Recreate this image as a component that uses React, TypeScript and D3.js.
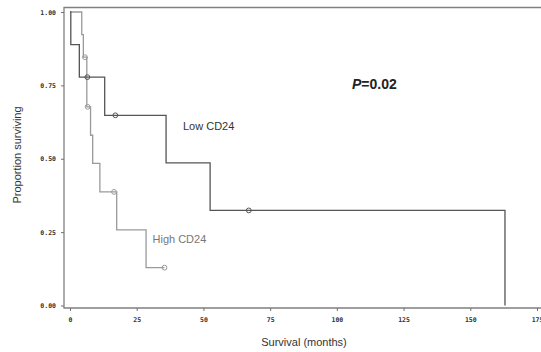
import React, { useRef, useEffect } from 'react'
import * as d3 from 'd3'

// Kaplan-Meier steps (months, proportion surviving)
const lowTimes = [0, 0.3, 3.5, 13, 36, 52.5, 163]
const lowSurv = [1, 0.889, 0.778, 0.648, 0.486, 0.324, 0]
const lowCensorTimes = [6.5, 17, 67]
const lowCensorSurv = [0.778, 0.648, 0.324]

const highTimes = [0, 4.4, 5.0, 6.3, 7.7, 8.5, 11.2, 17.5, 28.5, 35.4]
const highSurv = [1, 0.923, 0.846, 0.677, 0.58, 0.484, 0.387, 0.258, 0.129, 0.129]
const highCensorTimes = [5.6, 6.6, 16.5, 35.4]
const highCensorSurv = [0.846, 0.677, 0.387, 0.129]

const xTicks = [0, 25, 50, 75, 100, 125, 150, 175]
const yTicks = [0, 0.25, 0.5, 0.75, 1]

const W = 541
const H = 352
const frame = { left: 64, top: 7.5, bottom: 308, right: 541 }

const App = () => {
	const plotRef = useRef<SVGGElement | null>(null)

	const x = d3.scaleLinear().domain([0, 175]).range([70, 537])
	const y = d3.scaleLinear().domain([0, 1]).range([305.5, 12])

	useEffect(() => {
		const g = d3.select(plotRef.current)
		g.selectAll('*').remove()

		// frame
		g.append('path')
			.attr('d', `M${frame.right},${frame.top}H${frame.left}V${frame.bottom}H${frame.right}`)
			.attr('fill', 'none')
			.attr('stroke', '#808080')
			.attr('stroke-width', 1.3)

		// axes
		const xAxis = g
			.append('g')
			.attr('transform', `translate(0,${frame.bottom})`)
			.call(
				d3
					.axisBottom(x)
					.tickValues(xTicks)
					.tickSize(3)
					.tickPadding(6)
					.tickFormat((d) => String(d))
			)
		xAxis.select('.domain').remove()

		const yAxis = g
			.append('g')
			.attr('transform', `translate(${frame.left},0)`)
			.call(
				d3
					.axisLeft(y)
					.tickValues(yTicks)
					.tickSize(3)
					.tickPadding(5)
					.tickFormat((d) => d3.format('.2f')(d as number))
			)
		yAxis.select('.domain').remove()

		g.selectAll('.tick line').attr('stroke', '#707070').attr('stroke-width', 1)
		g.selectAll('.tick text')
			.attr('fill', '#333')
			.attr('font-family', '"DejaVu Sans Mono", monospace')
			.attr('font-weight', 'bold')
			.attr('font-size', 6.5)

		const line = d3
			.line<[number, number]>()
			.x((d) => x(d[0]))
			.y((d) => y(d[1]))
			.curve(d3.curveStepAfter)

		const series = [
			{ t: highTimes, s: highSurv, ct: highCensorTimes, cs: highCensorSurv, color: '#9a9a9a' },
			{ t: lowTimes, s: lowSurv, ct: lowCensorTimes, cs: lowCensorSurv, color: '#555' },
		]

		series.forEach((sr) => {
			const pts = sr.t.map((t, i) => [t, sr.s[i]] as [number, number])
			g.append('path')
				.datum(pts)
				.attr('d', line)
				.attr('fill', 'none')
				.attr('stroke', sr.color)
				.attr('stroke-width', 1.3)
			g.append('g')
				.selectAll('circle')
				.data(sr.ct.map((t, i) => [t, sr.cs[i]]))
				.enter()
				.append('circle')
				.attr('cx', (d) => x(d[0]))
				.attr('cy', (d) => y(d[1]))
				.attr('r', 2.4)
				.attr('fill', 'none')
				.attr('stroke', sr.color)
				.attr('stroke-width', 1)
		})
	}, [x, y])

	const font = '"Liberation Sans", Arial, sans-serif'
	return (
		<svg
			width={W}
			height={H}
			style={{ position: 'absolute', left: 0, top: 0, background: '#fff' }}
		>
			<g ref={plotRef} />
			<g>
				<text x={183} y={130} fontFamily={font} fontSize={11} fill="#333">
					Low CD24
				</text>
				<text x={152.5} y={243} fontFamily={font} fontSize={11} fill="#777">
					High CD24
				</text>
				<text x={352} y={89} fontFamily={font} fontSize={14} fontWeight="bold" fill="#222">
					<tspan fontStyle="italic">P</tspan>=0.02
				</text>
				<text x={304} y={346} fontFamily={font} fontSize={11} fill="#333" textAnchor="middle">
					Survival (months)
				</text>
				<text
					transform="translate(21,155) rotate(-90)"
					fontFamily={font}
					fontSize={11}
					fill="#333"
					textAnchor="middle"
				>
					Proportion surviving
				</text>
			</g>
		</svg>
	)
}

export default App
